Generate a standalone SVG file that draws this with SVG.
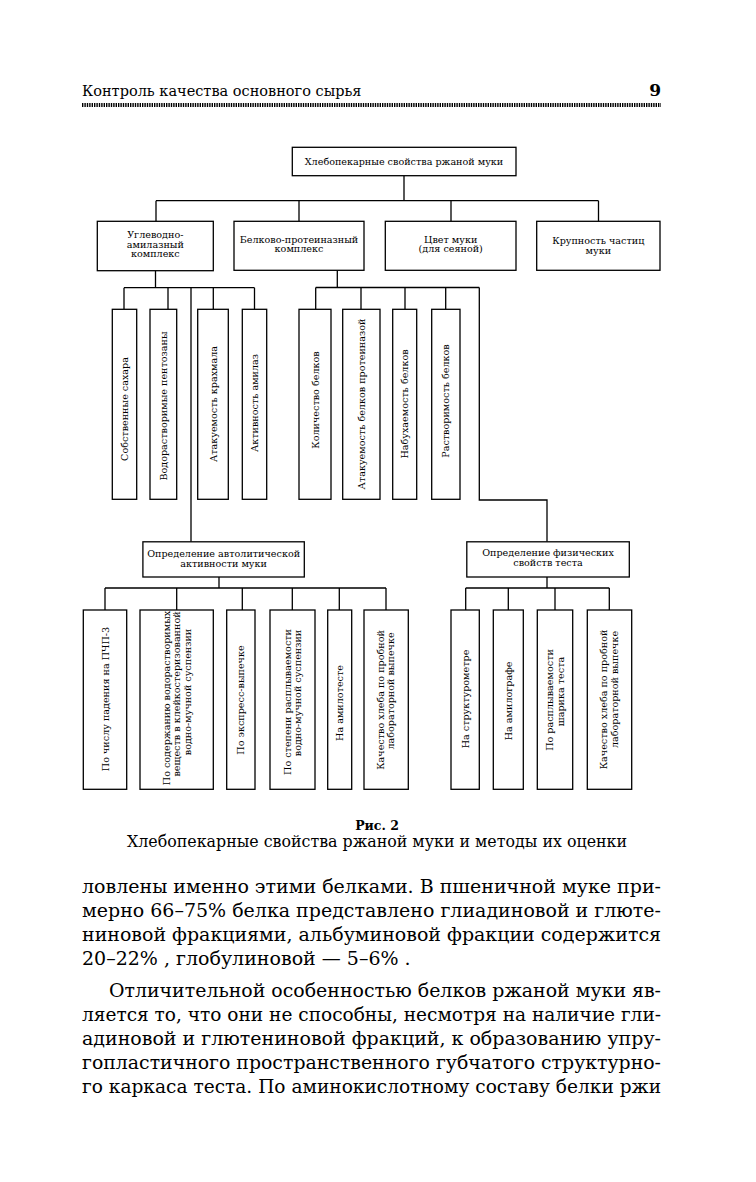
<svg xmlns="http://www.w3.org/2000/svg" width="756" height="1182" viewBox="0 0 756 1182">
<style>
.bx{fill:#fff;stroke:#000;stroke-width:1.3}
.c{fill:none;stroke:#000;stroke-width:1.3}
.t{font-family:"DejaVu Serif","Liberation Serif",serif;font-size:9.6px;fill:#000;text-anchor:middle}
.v{dominant-baseline:central}
.body{font-family:"DejaVu Serif","Liberation Serif",serif;font-size:19px;fill:#000}
</style>
<rect width="756" height="1182" fill="#fff"/>
<g id="header">
<text x="82" y="96" font-family="DejaVu Serif, Liberation Serif, serif" font-size="14.5">Контроль качества основного сырья</text>
<text x="661" y="96" font-family="DejaVu Serif, Liberation Serif, serif" font-size="17" font-weight="bold" text-anchor="end">9</text>
<line x1="82" y1="105" x2="661" y2="105" stroke="#000" stroke-width="4" stroke-dasharray="1.4 1"/>
</g>
<g id="connectors">
<path class="c" d="M404,176V200.7M156,200.7H598.5M156,200.7V221M299,200.7V221M451,200.7V221M598.5,200.7V221"/>
<path class="c" d="M155.5,270.7V287.7M124,287.7H254.5M124,287.7V309.3M168,287.7V309.3M213.3,287.7V309.3M254.5,287.7V309.3M191,287.7V541.8"/>
<path class="c" d="M337.3,270.5V287.5M315.7,287.5H479.3M315.7,287.5V309.3M361,287.5V309.3M405,287.5V309.3M445.7,287.5V309.3M479.3,287.5V500H547V541.8"/>
<path class="c" d="M219,577V588M105,588H386M105,588V610M176.7,588V610M242.3,588V610M292.3,588V610M339.3,588V610M386,588V610"/>
<path class="c" d="M547,577V588M465.7,588H609.3M465.7,588V610M508.3,588V610M555,588V610M609.3,588V610"/>
</g>
<g id="root">
<rect class="bx" x="292.3" y="147.3" width="223.7" height="28.4"/>
<text class="t" x="404" y="165">Хлебопекарные свойства ржаной муки</text>
</g>
<g id="n-carb">
<rect class="bx" x="97.3" y="221.3" width="116" height="49.4"/>
<text class="t" x="155.3" y="238">Углеводно-</text>
<text class="t" x="155.3" y="247.5">амилазный</text>
<text class="t" x="155.3" y="257">комплекс</text>
</g>
<g id="n-prot">
<rect class="bx" x="234" y="221.3" width="130" height="49"/>
<text class="t" x="299" y="242.5">Белково-протеиназный</text>
<text class="t" x="299" y="252.2">комплекс</text>
</g>
<g id="n-color">
<rect class="bx" x="385.3" y="221.3" width="130.7" height="49"/>
<text class="t" x="450.7" y="242.5">Цвет муки</text>
<text class="t" x="450.7" y="252.2">(для сеяной)</text>
</g>
<g id="n-size">
<rect class="bx" x="536.7" y="221.3" width="123.3" height="49"/>
<text class="t" x="598.3" y="244">Крупность частиц</text>
<text class="t" x="598.3" y="253.7">муки</text>
</g>
<g id="n-sugar">
<rect class="bx" x="112.3" y="309.3" width="24.4" height="190"/>
<text class="t v" transform="translate(124.5,409) rotate(-90)">Собственные сахара</text>
</g>
<g id="n-pent">
<rect class="bx" x="150" y="309.3" width="26.7" height="190"/>
<text class="t v" transform="translate(163.3,406) rotate(-90)">Водорастворимые пентозаны</text>
</g>
<g id="n-starch">
<rect class="bx" x="197.7" y="309.3" width="30.6" height="190"/>
<text class="t v" transform="translate(213,404) rotate(-90)">Атакуемость крахмала</text>
</g>
<g id="n-amyl">
<rect class="bx" x="242.3" y="309.3" width="24.4" height="190"/>
<text class="t v" transform="translate(254.5,403) rotate(-90)">Активность амилаз</text>
</g>
<g id="n-qty">
<rect class="bx" x="299" y="309.3" width="32" height="190"/>
<text class="t v" transform="translate(315,400) rotate(-90)">Количество белков</text>
</g>
<g id="n-attack">
<rect class="bx" x="342.7" y="309.3" width="37.3" height="190"/>
<text class="t v" transform="translate(361.3,404) rotate(-90)">Атакуемость белков протеиназой</text>
</g>
<g id="n-swell">
<rect class="bx" x="392.7" y="309.3" width="24" height="190"/>
<text class="t v" transform="translate(404.7,404) rotate(-90)">Набухаемость белков</text>
</g>
<g id="n-solub">
<rect class="bx" x="431.7" y="309.3" width="28.3" height="190"/>
<text class="t v" transform="translate(445.8,401) rotate(-90)">Растворимость белков</text>
</g>
<g id="n-autolytic">
<rect class="bx" x="142.9" y="541.8" width="161.4" height="35.2"/>
<text class="t" x="223.6" y="556.5">Определение автолитической</text>
<text class="t" x="223.6" y="566.5">активности муки</text>
</g>
<g id="n-physical">
<rect class="bx" x="466.8" y="541.8" width="162.5" height="35.2"/>
<text class="t" x="548" y="556">Определение физических</text>
<text class="t" x="548" y="566">свойств теста</text>
</g>
<g id="n-fall">
<rect class="bx" x="83.3" y="610" width="43.4" height="179.3"/>
<text class="t v" transform="translate(105,699) rotate(-90)">По числу падения на ПЧП-3</text>
</g>
<g id="n-content">
<rect class="bx" x="140" y="610" width="73.3" height="179.3"/>
<text class="t v" transform="translate(166.4,698) rotate(-90)">По содержанию водорастворимых</text>
<text class="t v" transform="translate(176.7,694) rotate(-90)">веществ в клейкостеризованной</text>
<text class="t v" transform="translate(187,692) rotate(-90)">водно-мучной суспензии</text>
</g>
<g id="n-express">
<rect class="bx" x="226.7" y="610" width="28.3" height="179.3"/>
<text class="t v" transform="translate(240.8,700) rotate(-90)">По экспресс-выпечке</text>
</g>
<g id="n-spread">
<rect class="bx" x="270" y="610" width="45" height="179.3"/>
<text class="t v" transform="translate(287.3,702) rotate(-90)">По степени расплываемости</text>
<text class="t v" transform="translate(297.7,693) rotate(-90)">водно-мучной суспензии</text>
</g>
<g id="n-amylotest">
<rect class="bx" x="327.7" y="610" width="24" height="179.3"/>
<text class="t v" transform="translate(339.7,703) rotate(-90)">На амилотесте</text>
</g>
<g id="n-bake1">
<rect class="bx" x="364" y="610" width="44.3" height="179.3"/>
<text class="t v" transform="translate(380.5,700) rotate(-90)">Качество хлеба по пробной</text>
<text class="t v" transform="translate(390.8,691) rotate(-90)">лабораторной выпечке</text>
</g>
<g id="n-struct">
<rect class="bx" x="451" y="610" width="28.3" height="179.3"/>
<text class="t v" transform="translate(465.2,699) rotate(-90)">На структурометре</text>
</g>
<g id="n-amylograph">
<rect class="bx" x="493.3" y="610" width="30" height="179.3"/>
<text class="t v" transform="translate(508.3,701) rotate(-90)">На амилографе</text>
</g>
<g id="n-ball">
<rect class="bx" x="537.3" y="610" width="35.4" height="179.3"/>
<text class="t v" transform="translate(549.8,700) rotate(-90)">По расплываемости</text>
<text class="t v" transform="translate(560.2,691.5) rotate(-90)">шарика теста</text>
</g>
<g id="n-bake2">
<rect class="bx" x="587.3" y="610" width="44.4" height="179.3"/>
<text class="t v" transform="translate(603.5,699.5) rotate(-90)">Качество хлеба по пробной</text>
<text class="t v" transform="translate(614,689.5) rotate(-90)">лабораторной выпечке</text>
</g>
<g id="caption">
<text x="377" y="830" font-family="DejaVu Serif, Liberation Serif, serif" font-size="12.5" font-weight="bold" text-anchor="middle">Рис. 2</text>
<text x="127" y="847" font-family="DejaVu Serif, Liberation Serif, serif" font-size="16" textLength="500" lengthAdjust="spacingAndGlyphs">Хлебопекарные свойства ржаной муки и методы их оценки</text>
</g>
<g id="body">
<text class="body" x="82" y="893" textLength="579" lengthAdjust="spacingAndGlyphs">ловлены именно этими белками. В пшеничной муке при-</text>
<text class="body" x="82" y="917" textLength="579" lengthAdjust="spacingAndGlyphs">мерно 66–75% белка представлено глиадиновой и глюте-</text>
<text class="body" x="82" y="941" textLength="579" lengthAdjust="spacingAndGlyphs">ниновой фракциями, альбуминовой фракции содержится</text>
<text class="body" x="82" y="965">20–22% , глобулиновой — 5–6% .</text>
<text class="body" x="109" y="997" textLength="552" lengthAdjust="spacingAndGlyphs">Отличительной особенностью белков ржаной муки яв-</text>
<text class="body" x="82" y="1021" textLength="579" lengthAdjust="spacingAndGlyphs">ляется то, что они не способны, несмотря на наличие гли-</text>
<text class="body" x="82" y="1045" textLength="579" lengthAdjust="spacingAndGlyphs">адиновой и глютениновой фракций, к образованию упру-</text>
<text class="body" x="82" y="1069" textLength="579" lengthAdjust="spacingAndGlyphs">гопластичного пространственного губчатого структурно-</text>
<text class="body" x="82" y="1093" textLength="579" lengthAdjust="spacingAndGlyphs">го каркаса теста. По аминокислотному составу белки ржи</text>
</g>
</svg>
